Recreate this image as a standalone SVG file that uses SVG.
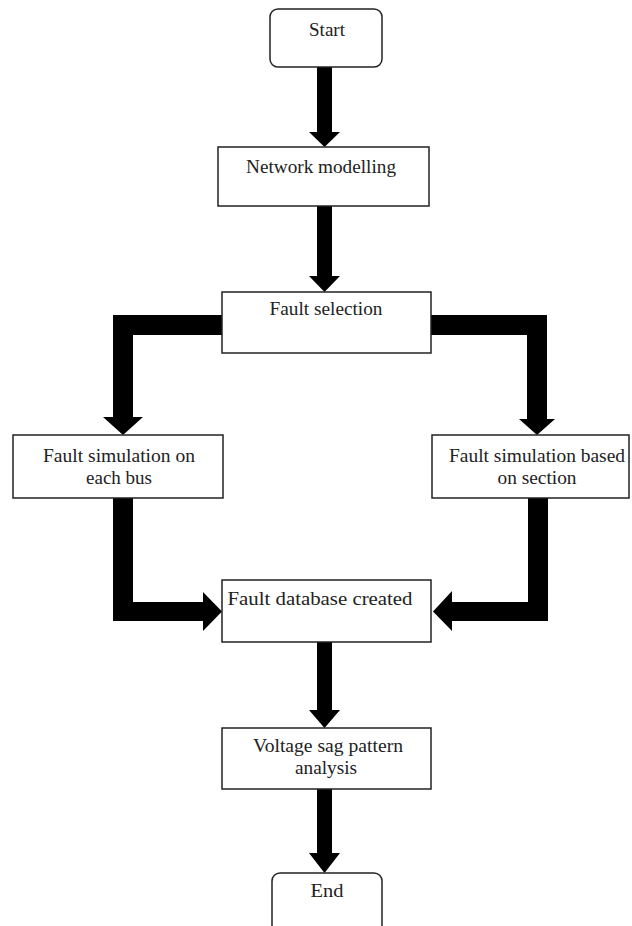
<svg xmlns="http://www.w3.org/2000/svg" width="632" height="926" viewBox="0 0 632 926">
<style>
.box{fill:#fff;stroke:#222;stroke-width:1.5}
.t{font-family:"Liberation Serif","Times New Roman",serif;font-size:18px;fill:#222;text-anchor:middle}
.arr{fill:#000}
</style>
<rect width="632" height="926" fill="#fff"/>
<g id="connectors">
<polygon class="arr" points="317,67 332,67 332,132 340,132 324.5,147 309,132 317,132"/>
<polygon class="arr" points="317,206 332,206 332,276 340,276 324.5,292 309,276 317,276"/>
<polygon class="arr" points="222,315 113,315 113,417 103,417 123,435 143,417 133,417 133,335 222,335"/>
<polygon class="arr" points="431,315 547,315 547,419 555,419 537,435 519,419 527,419 527,335 431,335"/>
<polygon class="arr" points="113,498 133,498 133,602 203,602 203,592 222,611.5 203,631 203,621 113,621"/>
<polygon class="arr" points="548,498 528,498 528,602 452,602 452,591 433,611.5 452,631 452,621 548,621"/>
<polygon class="arr" points="317,642 332,642 332,710 340,710 324.5,728 309,710 317,710"/>
<polygon class="arr" points="317,789 332,789 332,853 340,853 324.5,873 309,853 317,853"/>
</g>
<g id="start"><rect class="box" x="270" y="9" width="112" height="58" rx="8"/><text class="t" x="327" y="36" textLength="36" lengthAdjust="spacingAndGlyphs">Start</text></g>
<g id="network"><rect class="box" x="218" y="147" width="211" height="59"/><text class="t" x="321" y="173" textLength="150" lengthAdjust="spacingAndGlyphs">Network modelling</text></g>
<g id="faultsel"><rect class="box" x="222" y="292" width="209" height="61"/><text class="t" x="326" y="315" textLength="113" lengthAdjust="spacingAndGlyphs">Fault selection</text></g>
<g id="simbus"><rect class="box" x="13" y="435" width="210" height="63"/><text class="t" x="119" y="462" textLength="152" lengthAdjust="spacingAndGlyphs">Fault simulation on</text><text class="t" x="119" y="484" textLength="66" lengthAdjust="spacingAndGlyphs">each bus</text></g>
<g id="simsection"><rect class="box" x="432" y="435" width="197" height="63"/><text class="t" x="537" y="462" textLength="176" lengthAdjust="spacingAndGlyphs">Fault simulation based</text><text class="t" x="537" y="484" textLength="79" lengthAdjust="spacingAndGlyphs">on section</text></g>
<g id="database"><rect class="box" x="222" y="580" width="209" height="62"/><text class="t" x="320" y="605" textLength="185" lengthAdjust="spacingAndGlyphs">Fault database created</text></g>
<g id="voltage"><rect class="box" x="222" y="728" width="209" height="61"/><text class="t" x="328" y="752" textLength="150" lengthAdjust="spacingAndGlyphs">Voltage sag pattern</text><text class="t" x="326" y="774" textLength="62" lengthAdjust="spacingAndGlyphs">analysis</text></g>
<g id="end"><rect class="box" x="272" y="873" width="110" height="62" rx="8"/><text class="t" x="327" y="897" textLength="33" lengthAdjust="spacingAndGlyphs">End</text></g>
</svg>
